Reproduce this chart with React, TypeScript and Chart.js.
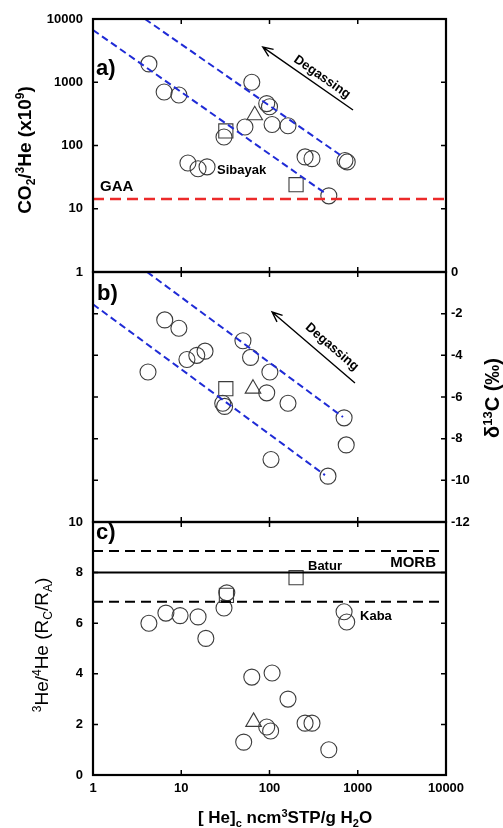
import React, { useEffect, useRef } from 'react';
import { Chart, registerables } from 'chart.js';

Chart.register(...registerables);

const W = 503;
const H = 828;
const FONT = '"Liberation Sans", Arial, Helvetica, sans-serif';

// shared x axis ([He]c, log)
const xTickValues = [1, 10, 100, 1000, 10000];
const xInnerTicks = [10, 100, 1000];

// ---------- panel a : CO2/3He (x10^9) ----------
const aTickValues = [1, 10, 100, 1000, 10000];
const aInnerTicks = [10, 100, 1000];
const aCircleX = [4.3, 6.4, 9.4, 11.9, 15.5, 19.6, 30.5, 52.7, 63, 93, 100, 107, 162, 253, 303, 470, 716, 760];
const aCircleY = [1950, 700, 630, 53, 43, 46, 136, 196, 1000, 460, 410, 215, 205, 66, 62, 16, 58, 55];
const aSquareX = [32, 200];
const aSquareY = [170, 24];
const aTriangleX = [68];
const aTriangleY = [300];
const aUpperLineX = [3.88, 680];
const aUpperLineY = [10000, 66];
const aLowerLineX = [1, 425];
const aLowerLineY = [6700, 17.7];
const gaaX = [1, 10000];
const gaaY = [14.3, 14.3];

// ---------- panel b : d13C ----------
const bTickValues = [0, -2, -4, -6, -8, -10, -12];
const bInnerTicks = [-2, -4, -6, -8, -10];
const bCircleX = [4.2, 6.5, 9.4, 11.6, 15, 18.6, 29.5, 31, 50, 61, 93, 101, 104, 162, 460, 700, 740];
const bCircleY = [-4.8, -2.3, -2.7, -4.2, -4.0, -3.8, -6.3, -6.45, -3.3, -4.1, -5.8, -4.8, -9.0, -6.3, -9.8, -7.0, -8.3];
const bSquareX = [32];
const bSquareY = [-5.6];
const bTriangleX = [65];
const bTriangleY = [-5.6];
const bUpperLineX = [4.1, 680];
const bUpperLineY = [0, -6.96];
const bLowerLineX = [1, 425];
const bLowerLineY = [-1.55, -9.75];

// ---------- panel c : 3He/4He (Rc/Ra) ----------
const cTickValues = [0, 2, 4, 6, 8, 10];
const cInnerTicks = [2, 4, 6, 8];
const cCircleX = [4.3, 6.7, 9.7, 15.5, 19, 30.5, 32.8, 51, 63, 93, 103, 107, 162, 253, 303, 470, 700, 750];
const cCircleY = [6.0, 6.4, 6.3, 6.25, 5.4, 6.6, 7.2, 1.3, 3.87, 1.9, 1.74, 4.03, 3.0, 2.05, 2.05, 1.0, 6.45, 6.05];
const cSquareX = [32.5, 200];
const cSquareY = [7.1, 7.8];
const cTriangleX = [66];
const cTriangleY = [2.1];
const morbX = [1, 10000];
const morbY = [8, 8];
const morbHighY = [8.85, 8.85];
const morbLowY = [6.85, 6.85];

// annotation anchors (data units)
const sibayakAt = { x: 25.4, y: 40 };
const gaaAt = { x: 1.2, y: 22.1 };
const degasA = { head: { x: 84, y: 3600 }, tail: { x: 884, y: 364 }, label: { x: 394, y: 1210 } };
const degasB = { head: { x: 107, y: -1.92 }, tail: { x: 930, y: -5.33 }, label: { x: 511, y: -3.6 } };
const baturAt = { x: 273, y: 8.26 };
const morbAt = { x: 7700, y: 8.38 };
const kabaAt = { x: 1061, y: 6.28 };

type Seg = { t: string; s?: 'sup' | 'sub' };

const pts = (xs: number[], ys: number[]) => xs.map((x, i) => ({ x, y: ys[i] }));

const markerDs = (xs: number[], ys: number[], style: string, r: number) => ({
  type: 'scatter',
  data: pts(xs, ys),
  pointStyle: style,
  pointRadius: r,
  pointHoverRadius: r,
  pointBorderColor: '#3c3c3c',
  pointBackgroundColor: 'rgba(0,0,0,0)',
  pointBorderWidth: 1.1,
  showLine: false,
});

const lineDs = (xs: number[], ys: number[], color: string, width: number, dash: number[]) => ({
  type: 'scatter',
  data: pts(xs, ys),
  showLine: true,
  borderColor: color,
  borderWidth: width,
  borderDash: dash,
  pointRadius: 0,
  pointHoverRadius: 0,
  fill: false,
});

const tickFont = { family: FONT, size: 13, weight: 'bold' as const };

function drawFrame(chart: any, xTicks: number[], yTicks: number[]) {
  const { ctx, chartArea: ca } = chart;
  const xs = chart.scales.x;
  const ys = chart.scales.y;
  ctx.save();
  ctx.strokeStyle = '#000';
  ctx.lineWidth = 1.5;
  ctx.beginPath();
  xTicks.forEach((v) => {
    const px = xs.getPixelForValue(v);
    ctx.moveTo(px, ca.top);
    ctx.lineTo(px, ca.top + 5);
    ctx.moveTo(px, ca.bottom);
    ctx.lineTo(px, ca.bottom - 5);
  });
  yTicks.forEach((v) => {
    const py = ys.getPixelForValue(v);
    ctx.moveTo(ca.left, py);
    ctx.lineTo(ca.left + 5, py);
    ctx.moveTo(ca.right, py);
    ctx.lineTo(ca.right - 5, py);
  });
  ctx.stroke();
  ctx.lineWidth = 2.2;
  ctx.strokeRect(ca.left, ca.top, ca.right - ca.left, ca.bottom - ca.top);
  ctx.restore();
}

function drawRich(ctx: CanvasRenderingContext2D, segs: Seg[], x: number, y: number, size: number, weight: string, rot: number) {
  ctx.save();
  ctx.translate(x, y);
  ctx.rotate(rot);
  ctx.fillStyle = '#000';
  ctx.textBaseline = 'alphabetic';
  ctx.textAlign = 'left';
  const fontOf = (s: Seg) => `${weight} ${s.s ? Math.round(size * 0.65) : size}px ${FONT}`;
  let total = 0;
  const widths = segs.map((s) => {
    ctx.font = fontOf(s);
    const w = ctx.measureText(s.t).width;
    total += w;
    return w;
  });
  let cx = -total / 2;
  const base = size * 0.36;
  segs.forEach((s, i) => {
    ctx.font = fontOf(s);
    const dy = s.s === 'sup' ? -size * 0.38 : s.s === 'sub' ? size * 0.2 : 0;
    ctx.fillText(s.t, cx, base + dy);
    cx += widths[i];
  });
  ctx.restore();
}

function drawText(ctx: CanvasRenderingContext2D, t: string, x: number, y: number, font: string, align: CanvasTextAlign, rot = 0) {
  ctx.save();
  ctx.translate(x, y);
  ctx.rotate(rot);
  ctx.font = font;
  ctx.fillStyle = '#000';
  ctx.textAlign = align;
  ctx.textBaseline = 'middle';
  ctx.fillText(t, 0, 0);
  ctx.restore();
}

function drawDegassing(chart: any, d: any) {
  const { ctx } = chart;
  const xs = chart.scales.x;
  const ys = chart.scales.y;
  const hx = xs.getPixelForValue(d.head.x);
  const hy = ys.getPixelForValue(d.head.y);
  const tx = xs.getPixelForValue(d.tail.x);
  const ty = ys.getPixelForValue(d.tail.y);
  const ang = Math.atan2(hy - ty, hx - tx);
  ctx.save();
  ctx.strokeStyle = '#000';
  ctx.lineWidth = 1.4;
  ctx.beginPath();
  ctx.moveTo(tx, ty);
  ctx.lineTo(hx, hy);
  const L = 11;
  const a = 0.4;
  ctx.moveTo(hx - L * Math.cos(ang - a), hy - L * Math.sin(ang - a));
  ctx.lineTo(hx, hy);
  ctx.lineTo(hx - L * Math.cos(ang + a), hy - L * Math.sin(ang + a));
  ctx.stroke();
  ctx.restore();
  const rot = Math.atan2(ty - hy, tx - hx);
  drawText(ctx, 'Degassing', xs.getPixelForValue(d.label.x), ys.getPixelForValue(d.label.y), `bold 13px ${FONT}`, 'center', rot);
}

const hiddenX = { type: 'logarithmic', min: 1, max: 10000, display: false };

function configA() {
  return {
    type: 'scatter',
    data: {
      datasets: [
        lineDs(gaaX, gaaY, '#ec2a2a', 2.5, [11, 6]),
        lineDs(aUpperLineX, aUpperLineY, '#1f2bd6', 2, [7, 4]),
        lineDs(aLowerLineX, aLowerLineY, '#1f2bd6', 2, [7, 4]),
        markerDs(aCircleX, aCircleY, 'circle', 8),
        markerDs(aSquareX, aSquareY, 'rect', 10),
        markerDs(aTriangleX, aTriangleY, 'triangle', 9),
      ],
    },
    options: {
      responsive: false,
      animation: false,
      devicePixelRatio: 1,
      events: [],
      layout: { padding: { top: 19, bottom: H - 272, left: 0, right: W - 446 } },
      plugins: { legend: { display: false }, tooltip: { enabled: false } },
      scales: {
        x: hiddenX,
        y: {
          type: 'logarithmic',
          min: 1,
          max: 10000,
          position: 'left',
          afterFit: (s: any) => { s.width = 93; },
          afterBuildTicks: (s: any) => { s.ticks = aTickValues.map((v) => ({ value: v })); },
          ticks: { callback: (v: any) => String(v), font: tickFont, color: '#000', padding: 10, autoSkip: false },
          grid: { display: false, drawTicks: false },
          border: { display: false },
        },
      },
    },
    plugins: [
      {
        id: 'decorA',
        afterDraw(chart: any) {
          const { ctx, chartArea: ca } = chart;
          const xs = chart.scales.x;
          const ys = chart.scales.y;
          drawFrame(chart, xInnerTicks, aInnerTicks);
          drawText(ctx, 'a)', ca.left + 3, ca.top + 50, `bold 22px ${FONT}`, 'left');
          drawText(ctx, 'GAA', xs.getPixelForValue(gaaAt.x), ys.getPixelForValue(gaaAt.y), `bold 15px ${FONT}`, 'left');
          drawText(ctx, 'Sibayak', xs.getPixelForValue(sibayakAt.x), ys.getPixelForValue(sibayakAt.y), `bold 13px ${FONT}`, 'left');
          drawDegassing(chart, degasA);
          drawRich(ctx, [{ t: 'CO' }, { t: '2', s: 'sub' }, { t: '/' }, { t: '3', s: 'sup' }, { t: 'He (x10' }, { t: '9', s: 'sup' }, { t: ')' }], 24, 150, 19, 'bold', -Math.PI / 2);
        },
      },
    ],
  };
}

function configB() {
  return {
    type: 'scatter',
    data: {
      datasets: [
        lineDs(bUpperLineX, bUpperLineY, '#1f2bd6', 2, [7, 4]),
        lineDs(bLowerLineX, bLowerLineY, '#1f2bd6', 2, [7, 4]),
        markerDs(bCircleX, bCircleY, 'circle', 8),
        markerDs(bSquareX, bSquareY, 'rect', 10),
        markerDs(bTriangleX, bTriangleY, 'triangle', 9),
      ],
    },
    options: {
      responsive: false,
      animation: false,
      devicePixelRatio: 1,
      events: [],
      layout: { padding: { top: 272, bottom: H - 522, left: 93, right: 0 } },
      plugins: { legend: { display: false }, tooltip: { enabled: false } },
      scales: {
        x: hiddenX,
        y: {
          type: 'linear',
          min: -12,
          max: 0,
          position: 'right',
          afterFit: (s: any) => { s.width = W - 446; },
          afterBuildTicks: (s: any) => { s.ticks = bTickValues.map((v) => ({ value: v })); },
          ticks: { callback: (v: any) => String(v), font: tickFont, color: '#000', padding: 5, autoSkip: false },
          grid: { display: false, drawTicks: false },
          border: { display: false },
        },
      },
    },
    plugins: [
      {
        id: 'decorB',
        afterDraw(chart: any) {
          const { ctx, chartArea: ca } = chart;
          drawFrame(chart, xInnerTicks, bInnerTicks);
          drawText(ctx, 'b)', ca.left + 4, ca.top + 22, `bold 22px ${FONT}`, 'left');
          drawDegassing(chart, degasB);
          drawRich(ctx, [{ t: '\u03B4' }, { t: '13', s: 'sup' }, { t: 'C (\u2030)' }], 492, 398, 20, 'bold', -Math.PI / 2);
        },
      },
    ],
  };
}

function configC() {
  return {
    type: 'scatter',
    data: {
      datasets: [
        lineDs(morbX, morbY, '#000', 2, []),
        lineDs(morbX, morbHighY, '#000', 2, [10, 6]),
        lineDs(morbX, morbLowY, '#000', 2, [10, 6]),
        markerDs(cCircleX, cCircleY, 'circle', 8),
        markerDs(cSquareX, cSquareY, 'rect', 10),
        markerDs(cTriangleX, cTriangleY, 'triangle', 9),
      ],
    },
    options: {
      responsive: false,
      animation: false,
      devicePixelRatio: 1,
      events: [],
      layout: { padding: { top: 522, bottom: 0, left: 0, right: W - 446 } },
      plugins: { legend: { display: false }, tooltip: { enabled: false } },
      scales: {
        x: {
          type: 'logarithmic',
          min: 1,
          max: 10000,
          position: 'bottom',
          afterFit: (s: any) => { s.height = H - 775; },
          afterBuildTicks: (s: any) => { s.ticks = xTickValues.map((v) => ({ value: v })); },
          ticks: { callback: (v: any) => String(v), font: tickFont, color: '#000', padding: 6, autoSkip: false, maxRotation: 0, minRotation: 0 },
          grid: { display: false, drawTicks: false },
          border: { display: false },
        },
        y: {
          type: 'linear',
          min: 0,
          max: 10,
          position: 'left',
          afterFit: (s: any) => { s.width = 93; },
          afterBuildTicks: (s: any) => { s.ticks = cTickValues.map((v) => ({ value: v })); },
          ticks: { callback: (v: any) => String(v), font: tickFont, color: '#000', padding: 10, autoSkip: false },
          grid: { display: false, drawTicks: false },
          border: { display: false },
        },
      },
    },
    plugins: [
      {
        id: 'decorC',
        afterDraw(chart: any) {
          const { ctx, chartArea: ca } = chart;
          const xs = chart.scales.x;
          const ys = chart.scales.y;
          drawFrame(chart, xInnerTicks, cInnerTicks);
          drawText(ctx, 'c)', ca.left + 3, ca.top + 11, `bold 22px ${FONT}`, 'left');
          drawText(ctx, 'Batur', xs.getPixelForValue(baturAt.x), ys.getPixelForValue(baturAt.y), `bold 13px ${FONT}`, 'left');
          drawText(ctx, 'MORB', xs.getPixelForValue(morbAt.x), ys.getPixelForValue(morbAt.y), `bold 15px ${FONT}`, 'right');
          drawText(ctx, 'Kaba', xs.getPixelForValue(kabaAt.x), ys.getPixelForValue(kabaAt.y), `bold 13px ${FONT}`, 'left');
          drawRich(ctx, [{ t: '3', s: 'sup' }, { t: 'He/' }, { t: '4', s: 'sup' }, { t: 'He (R' }, { t: 'C', s: 'sub' }, { t: '/R' }, { t: 'A', s: 'sub' }, { t: ')' }], 41, 645, 19, 'normal', -Math.PI / 2);
          drawRich(ctx, [{ t: '[ He]' }, { t: 'c', s: 'sub' }, { t: ' ncm' }, { t: '3', s: 'sup' }, { t: 'STP/g H' }, { t: '2', s: 'sub' }, { t: 'O' }], 285, 817, 17, 'bold', 0);
        },
      },
    ],
  };
}

export default function App() {
  const refA = useRef<HTMLCanvasElement>(null);
  const refB = useRef<HTMLCanvasElement>(null);
  const refC = useRef<HTMLCanvasElement>(null);

  useEffect(() => {
    document.body.style.margin = '0';
    const charts: Chart[] = [];
    if (refA.current) charts.push(new Chart(refA.current, configA() as any));
    if (refB.current) charts.push(new Chart(refB.current, configB() as any));
    if (refC.current) charts.push(new Chart(refC.current, configC() as any));
    return () => charts.forEach((c) => c.destroy());
  }, []);

  const cs: React.CSSProperties = { position: 'absolute', left: 0, top: 0, width: W, height: H };
  return (
    <div style={{ position: 'relative', width: W, height: H, background: '#fff' }}>
      <canvas ref={refA} width={W} height={H} style={cs} />
      <canvas ref={refB} width={W} height={H} style={cs} />
      <canvas ref={refC} width={W} height={H} style={cs} />
    </div>
  );
}
